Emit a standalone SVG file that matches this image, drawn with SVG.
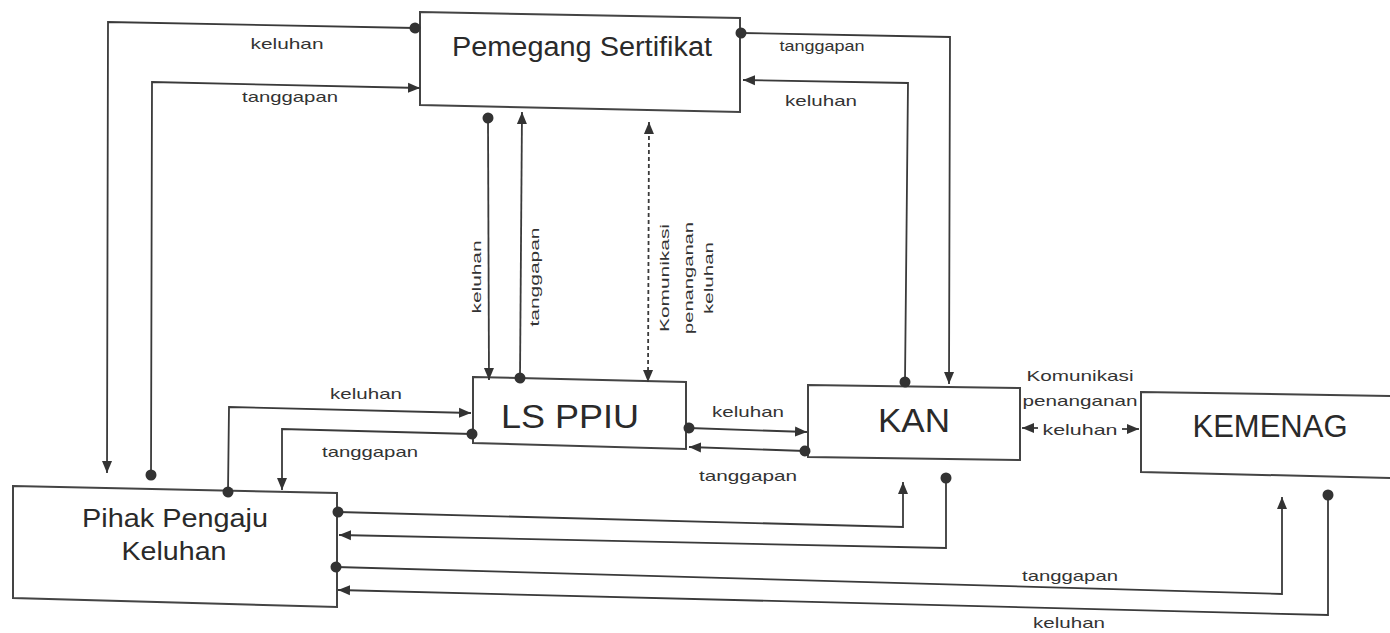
<svg xmlns="http://www.w3.org/2000/svg" width="1390" height="633" viewBox="0 0 1390 633">
<style>
.box{fill:#fff;stroke:#444;stroke-width:2}
.ln{fill:none;stroke:#3a3a3a;stroke-width:1.8;marker-start:url(#dot);marker-end:url(#arr)}
.dash{fill:none;stroke:#3a3a3a;stroke-width:1.8;stroke-dasharray:4 3;marker-start:url(#arrs);marker-end:url(#arr)}
.sh{fill:none;stroke:#3a3a3a;stroke-width:1.8;marker-end:url(#arr)}
.nt{font-family:"Liberation Sans",Arial,sans-serif;fill:#2a2a2a;text-anchor:middle}
.lb{font-family:"Liberation Sans",Arial,sans-serif;fill:#333;text-anchor:middle;font-size:15px}
.vl{font-family:"Liberation Sans",Arial,sans-serif;fill:#333;text-anchor:middle;font-size:13px}
</style>
<defs>
<marker id="arr" markerUnits="userSpaceOnUse" markerWidth="14" markerHeight="12" refX="12" refY="6" orient="auto"><path d="M0,1 L12,6 L0,11 Z" fill="#333"/></marker>
<marker id="arrs" markerUnits="userSpaceOnUse" markerWidth="14" markerHeight="12" refX="12" refY="6" orient="auto-start-reverse"><path d="M0,1 L12,6 L0,11 Z" fill="#333"/></marker>
<marker id="dot" markerUnits="userSpaceOnUse" markerWidth="14" markerHeight="14" refX="7" refY="7" orient="auto"><circle cx="7" cy="7" r="5.5" fill="#333"/></marker>
</defs>
<rect width="1390" height="633" fill="#fff"/>

<g id="pemegang">
<polygon class="box" points="420,12 740,18 740,112 420,105"/>
<text class="nt" x="582" y="56" font-size="27" textLength="260" lengthAdjust="spacingAndGlyphs">Pemegang Sertifikat</text>
</g>
<g id="lsppiu">
<polygon class="box" points="473,377 686,382 686,449 473,443"/>
<text class="nt" x="570" y="428" font-size="34" textLength="138" lengthAdjust="spacingAndGlyphs">LS PPIU</text>
</g>
<g id="kan">
<polygon class="box" points="808,385 1020,388 1020,460 808,457"/>
<text class="nt" x="914" y="432" font-size="34" textLength="72" lengthAdjust="spacingAndGlyphs">KAN</text>
</g>
<g id="kemenag">
<polygon class="box" points="1141,392 1392,396 1392,478 1141,472"/>
<text class="nt" x="1270" y="437" font-size="32" textLength="155" lengthAdjust="spacingAndGlyphs">KEMENAG</text>
</g>
<g id="pihak">
<polygon class="box" points="13,486 337,493 337,607 13,598"/>
<text class="nt" x="175" y="527" font-size="26" textLength="186" lengthAdjust="spacingAndGlyphs">Pihak Pengaju</text>
<text class="nt" x="174" y="560" font-size="26" textLength="105" lengthAdjust="spacingAndGlyphs">Keluhan</text>
</g>

<g id="connectors">
<path class="ln" d="M415,28 L108,22 L107,473"/>
<path class="ln" d="M151,475 L152,82 L420,88"/>
<path class="ln" d="M741,33 L950,37 L949,384"/>
<path class="ln" d="M905,382 L908,83 L743,80"/>
<path class="ln" d="M488,118 L489,380"/>
<path class="ln" d="M520,378 L522,112"/>
<path class="dash" d="M649,122 L648,382"/>
<path class="ln" d="M228,492 L229,407 L471,413"/>
<path class="ln" d="M472,434 L282,429 L282,490"/>
<path class="ln" d="M689,428 L807,432"/>
<path class="ln" d="M805,451 L689,447"/>
<path class="ln" d="M338,512 L903,527 L903,482"/>
<path class="ln" d="M946,478 L946,548 L339,535"/>
<path class="ln" d="M336,567 L1282,594 L1282,497"/>
<path class="ln" d="M1328,495 L1328,615 L338,590"/>
<path class="sh" d="M1038,428 L1022,428"/>
<path class="sh" d="M1122,429 L1139,429"/>
</g>

<g id="labels">
<text class="lb" x="287" y="49" textLength="73" lengthAdjust="spacingAndGlyphs">keluhan</text>
<text class="lb" x="290" y="102" textLength="96" lengthAdjust="spacingAndGlyphs">tanggapan</text>
<text class="lb" x="822" y="51" font-size="13" textLength="85" lengthAdjust="spacingAndGlyphs">tanggapan</text>
<text class="lb" x="821" y="106" textLength="72" lengthAdjust="spacingAndGlyphs">keluhan</text>
<text class="vl" transform="translate(476,277) rotate(-90)" x="0" y="5" textLength="73" lengthAdjust="spacingAndGlyphs">keluhan</text>
<text class="vl" transform="translate(534,277) rotate(-90)" x="0" y="5" textLength="99" lengthAdjust="spacingAndGlyphs">tanggapan</text>
<text class="vl" transform="translate(664,278) rotate(-90)" x="0" y="5" textLength="108" lengthAdjust="spacingAndGlyphs">Komunikasi</text>
<text class="vl" transform="translate(688,278) rotate(-90)" x="0" y="5" textLength="112" lengthAdjust="spacingAndGlyphs">penanganan</text>
<text class="vl" transform="translate(708,278) rotate(-90)" x="0" y="5" textLength="72" lengthAdjust="spacingAndGlyphs">keluhan</text>
<text class="lb" x="366" y="399" textLength="72" lengthAdjust="spacingAndGlyphs">keluhan</text>
<text class="lb" x="370" y="457" textLength="96" lengthAdjust="spacingAndGlyphs">tanggapan</text>
<text class="lb" x="748" y="417" textLength="72" lengthAdjust="spacingAndGlyphs">keluhan</text>
<text class="lb" x="748" y="481" textLength="98" lengthAdjust="spacingAndGlyphs">tanggapan</text>
<text class="lb" x="1080" y="381" textLength="107" lengthAdjust="spacingAndGlyphs">Komunikasi</text>
<text class="lb" x="1080" y="406" textLength="115" lengthAdjust="spacingAndGlyphs">penanganan</text>
<text class="lb" x="1080" y="435" textLength="75" lengthAdjust="spacingAndGlyphs">keluhan</text>
<text class="lb" x="1070" y="581" textLength="96" lengthAdjust="spacingAndGlyphs">tanggapan</text>
<text class="lb" x="1069" y="628" textLength="72" lengthAdjust="spacingAndGlyphs">keluhan</text>
</g>
</svg>
